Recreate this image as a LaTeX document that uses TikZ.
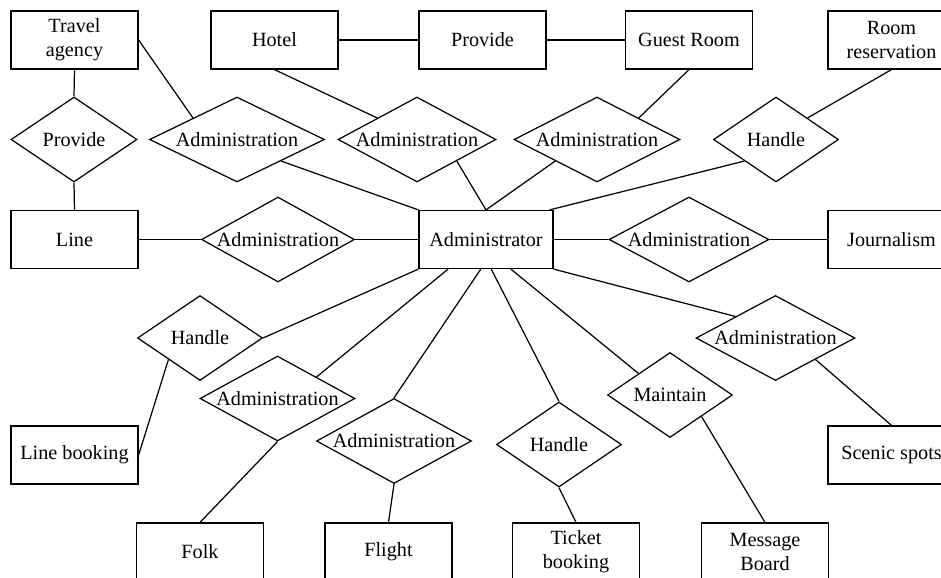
\documentclass[tikz,border=0pt]{standalone}
\usepackage{fontspec}
\setmainfont{Liberation Serif}
\usetikzlibrary{shapes.geometric}
\begin{document}
\begin{tikzpicture}[x=0.02cm,y=-0.02cm,line width=0.7pt,
  every node/.style={font=\fontsize{11.5}{13.5}\selectfont},
  entity/.style={draw,rectangle,minimum width=2.54cm,minimum height=1.16cm,inner sep=0pt,align=center},
  rel/.style={draw,diamond,minimum width=#1,minimum height=1.7cm,inner sep=0pt,
    execute at begin node={\hbox to 0pt\bgroup\hss},execute at end node={\hss\egroup}},
  rel/.default=2.5cm]
\useasboundingbox (0,0) rectangle (941,578);
\clip (0,0) rectangle (941,578);
\node (agency) at (74.5,40) [entity] {Travel\\agency};
\node (hotel) at (274.5,40) [entity] {Hotel};
\node (provbox) at (482.5,40) [entity] {Provide};
\node (guest) at (689,40) [entity] {Guest Room};
\node (roomres) at (891.5,40) [entity] {Room\\reservation};
\node (line) at (74.5,239.5) [entity] {Line};
\node (admin) at (486,239.5) [entity,minimum width=2.68cm] {Administrator};
\node (journal) at (891.5,239.5) [entity] {Journalism};
\node (linebook) at (74.5,455) [entity] {Line booking};
\node (scenic) at (891.5,455) [entity] {Scenic spots};
\node (folk) at (200,552) [entity] {Folk};
\node (flight) at (388.5,552) [entity] {Flight};
\node (ticket) at (576,552) [entity] {Ticket\\booking};
\node (msg) at (765,552) [entity] {Message\\Board};
\node (provd) at (74,139.5) [rel=2.52cm] {Provide};
\node (adm1) at (237,139.5) [rel=3.5cm] {Administration};
\node (adm2) at (417,139.5) [rel=3.16cm] {Administration};
\node (adm3) at (597,139.5) [rel=3.32cm] {Administration};
\node (handle1) at (776,139.5) [rel] {Handle};
\node (adm4) at (278,239.5) [rel=3.06cm] {Administration};
\node (adm5) at (689,239.5) [rel=3.2cm] {Administration};
\node (handle2) at (200,338) [rel] {Handle};
\node (adm6) at (277.5,398.5) [rel=3.1cm] {Administration};
\node (adm7) at (394,441) [rel=3.1cm] {Administration};
\node (handle3) at (559,444.5) [rel] {Handle};
\node (maintain) at (670,395) [rel] {Maintain};
\node (adm8) at (775.5,338) [rel=3.18cm] {Administration};
\draw (hotel.east) -- (provbox.west);
\draw (provbox.east) -- (guest.west);
\draw (agency.south) -- (provd.north);
\draw (provd.south) -- (line.north);
\draw (agency.east) -- (adm1.north west);
\draw (adm1.south east) -- (admin.north west);
\draw (hotel.south) -- (adm2.north west);
\draw (adm2.south east) -- (admin.north);
\draw (guest.south) -- (adm3.north east);
\draw (adm3.south west) -- (admin.north);
\draw (roomres.south) -- (handle1.north east);
\draw (handle1.south west) -- (admin.25);
\draw (line.east) -- (adm4.west);
\draw (adm4.east) -- (admin.west);
\draw (admin.east) -- (adm5.west);
\draw (adm5.east) -- (journal.west);
\draw (admin.south west) -- (handle2.east);
\draw (admin.218) -- (adm6.north east);
\draw (admin.260) -- (adm7.north);
\draw (admin.280) -- (handle3.north);
\draw (admin.310) -- (maintain.north west);
\draw (admin.south east) -- (adm8.north west);
\draw (adm6.south) -- (folk.north);
\draw (adm7.south) -- (flight.north);
\draw (handle3.south) -- (ticket.north);
\draw (maintain.south east) -- (msg.north);
\draw (adm8.south east) -- (scenic.north);
\draw (handle2.south west) -- (linebook.east);
\end{tikzpicture}
\end{document}
